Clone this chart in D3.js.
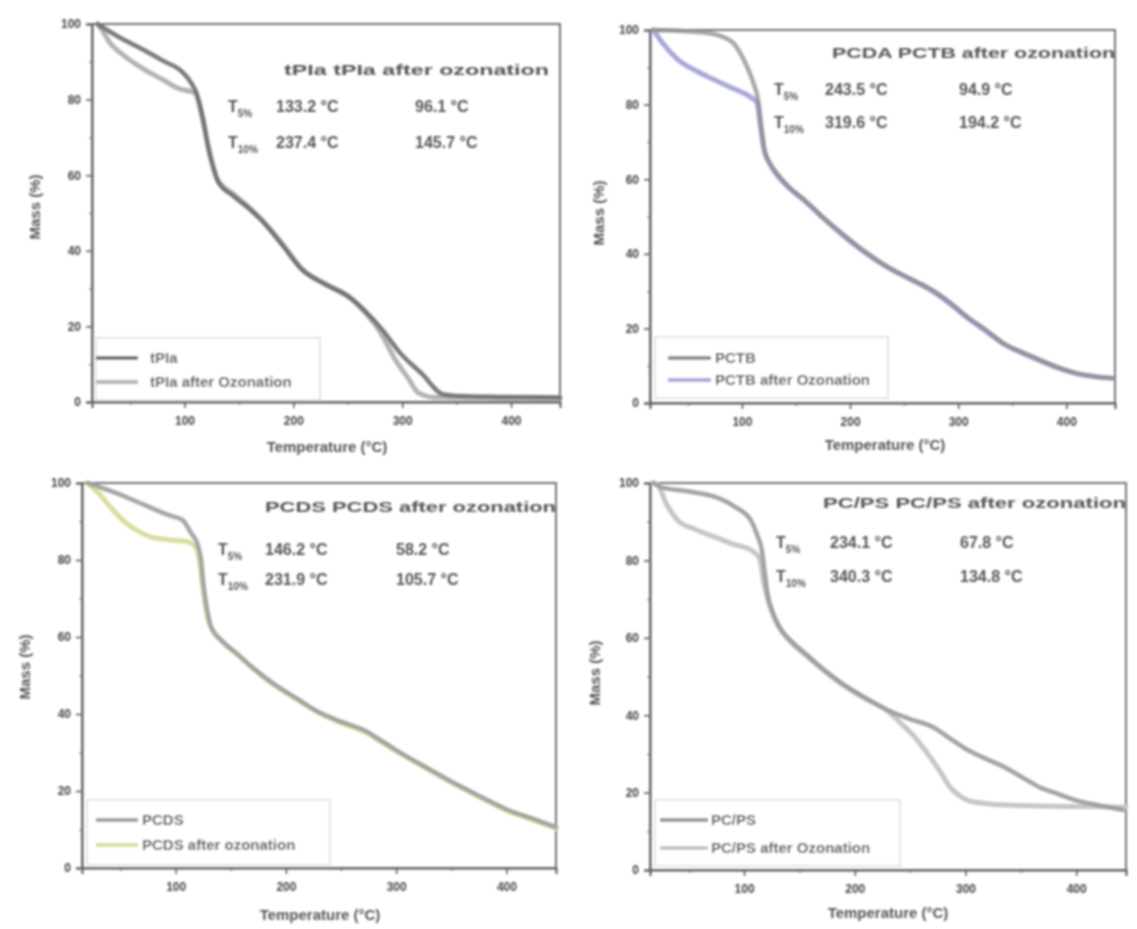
<!DOCTYPE html>
<html><head><meta charset="utf-8">
<script src="https://cdn.jsdelivr.net/npm/d3@7"></script>
<style>body{margin:0;background:#fff} text{font-family:"Liberation Sans",Arial,sans-serif}</style>
</head><body><svg id="c" width="1137" height="929"></svg>
<script>
// ---------- data ----------
const xTicks = [100, 200, 300, 400];
const yTicks = [0, 20, 40, 60, 80, 100];
const xLabel = "Temperature (°C)";
const yLabel = "Mass (%)";
const titles = ["tPIa  tPIa after ozonation", "PCDA  PCTB after ozonation", "PCDS  PCDS after ozonation", "PC/PS  PC/PS after ozonation"];
const legendOriginal = ["tPIa", "PCTB", "PCDS", "PC/PS"];
const legendOzonated = ["tPIa after Ozonation", "PCTB after Ozonation", "PCDS after ozonation", "PC/PS after Ozonation"];
const rowLabels = ["5%", "10%"];
const t5Original = ["133.2 °C", "243.5 °C", "146.2 °C", "234.1 °C"];
const t5Ozonated = ["96.1 °C", "94.9 °C", "58.2 °C", "67.8 °C"];
const t10Original = ["237.4 °C", "319.6 °C", "231.9 °C", "340.3 °C"];
const t10Ozonated = ["145.7 °C", "194.2 °C", "105.7 °C", "134.8 °C"];

// [temperature °C, mass %]
const tpiaOriginal = [[20,100],[40,96.5],[60,93.5],[80,90.3],[98,87.3],[106,84.5],[111,81.7],[117,75],[122,67],[127,61.5],[131,58.2],[145,54.5],[160,51],[171,48],[190,41.5],[208,35],[230,31],[251,27.8],[265,24.3],[282,19],[298,13],[318,7.5],[338,2],[360,1.5],[400,1.3],[445,1.2]];
const tpiaOzonated = [[20,100],[24,98.5],[31,95.2],[45,91.5],[64,87.8],[80,85.3],[94,83],[110,81.7],[116,75.5],[122,67.5],[130,59],[145,55],[160,51.3],[171,48.2],[190,41.8],[208,35.2],[230,31.2],[251,27.9],[265,24],[280,18.5],[294,11],[305,6.5],[315,2.4],[330,1.2],[400,1],[445,1]];
const pctbOriginal = [[18,100],[45,99.7],[68,99.2],[82,98.2],[92,96.5],[100,93],[105,90],[111,85.5],[115,81.2],[118,74],[121,67.8],[126,64.2],[132,61.7],[145,57.5],[158,54.4],[175,49.8],[192,45.6],[212,41],[235,36.5],[256,33.3],[276,30.3],[293,26.8],[309,23],[326,19.5],[342,16],[360,13.5],[376,11.5],[392,9.6],[409,8],[425,7.2],[442,6.7]];
const pctbOzonated = [[18,100],[28,96],[41,92],[58,89],[75,86.6],[92,84.3],[108,82],[114,80.5],[117,74.5],[120,68.5],[126,64],[132,61.3],[145,57.3],[158,54.2],[175,49.6],[192,45.3],[212,40.7],[235,36.3],[256,33.1],[276,30],[293,26.5],[309,22.7],[326,19.2],[342,15.8],[360,13.3],[376,11.3],[392,9.4],[409,7.9],[425,7.1],[442,6.6]];
const pcdsOriginal = [[20,100],[45,97.5],[70,94.5],[95,91.5],[106,90.4],[114,87],[120,84],[123,80],[125,74],[128,68],[132,62.6],[142,59],[155,55.8],[170,52],[188,48],[210,44],[231,40.3],[250,38],[271,35.8],[288,32.8],[304,29.9],[320,27.3],[336,24.7],[353,22],[370,19.5],[386,17.2],[402,15],[425,12.7],[445,10.6]];
const pcdsOzonated = [[20,100],[28,98],[40,94],[55,89.6],[66,87.5],[77,86],[95,85.2],[111,84.7],[119,83],[122,79],[125,72],[129,65],[134,61.6],[143,58.6],[156,55.4],[171,51.6],[189,47.6],[211,43.6],[232,40],[251,37.6],[272,35.3],[289,32.3],[305,29.5],[321,26.9],[337,24.3],[354,21.6],[371,19.1],[387,16.8],[403,14.6],[426,12.3],[445,10.3]];
const pcpsOriginal = [[18,100],[24,99],[50,97.8],[74,96.4],[92,93.8],[106,90.4],[112,86.5],[116,82.7],[119,76],[121,71.6],[126,66.5],[132,62.8],[143,59],[155,56],[171,52],[188,48.3],[209,44.6],[230,41.3],[250,39],[270,37],[286,34],[302,31],[318,28.8],[335,26.6],[351,24],[367,21.4],[384,19.6],[400,18],[421,16.7],[442,15.5]];
const pcpsOzonated = [[18,100],[22,99.5],[30,94.5],[40,90.4],[56,88],[74,86],[90,84.2],[106,82.7],[114,80.5],[118,74],[121,70.5],[126,66],[132,62.5],[143,58.7],[155,55.7],[171,51.8],[188,48.1],[209,44.3],[230,41],[243,37.5],[254,34.4],[262,31.5],[270,28.4],[278,25],[286,21.4],[294,19.3],[302,18],[318,17.2],[335,16.8],[380,16.5],[432,16.3],[445,16.2]];

const seriesOriginal = [tpiaOriginal, pctbOriginal, pcdsOriginal, pcpsOriginal];
const seriesOzonated = [tpiaOzonated, pctbOzonated, pcdsOzonated, pcpsOzonated];

// ---------- layout / style ----------
const panels = [
  {l:92, r:560, t:24, b:402, title:[284,75,265], tx:228, ty:[112,148], v1:276, v2:415,
   leg:{x0:96, x1:320, y0:338, y1:400, rows:[358,382], lx0:96, lx1:138, tx:150},
   xt:[327,452], yt:[35,207], cO:"#6f6f6f", cZ:"#b4b4b4"},
  {l:650, r:1115, t:30, b:403, title:[832,58,283], tx:774, ty:[95,128], v1:825, v2:959,
   leg:{x0:655, x1:888, y0:337, y1:398, rows:[358,380], lx0:668, lx1:711, tx:715},
   xt:[885,450], yt:[599,213], cO:"#8c8c8c", cZ:"#a9a9da"},
  {l:82, r:556, t:483, b:868, title:[265,512,291], tx:218, ty:[555,585], v1:265, v2:396,
   leg:{x0:87, x1:330, y0:800, y1:865, rows:[820,845], lx0:96, lx1:138, tx:142},
   xt:[320,920], yt:[25,667], cO:"#9d9d9d", cZ:"#dadd9e"},
  {l:650, r:1126, t:483, b:870, title:[823,508,303], tx:776, ty:[548,582], v1:830, v2:960,
   leg:{x0:655, x1:900, y0:800, y1:866, rows:[820,848], lx0:660, lx1:708, tx:711},
   xt:[888,918], yt:[595,673], cO:"#9a9a9a", cZ:"#c6c6c6"}
];

const svg = d3.select("#c");
const defs = svg.append("defs");
defs.append("filter").attr("id","soft").attr("x","-5%").attr("y","-5%").attr("width","110%").attr("height","110%")
  .append("feGaussianBlur").attr("stdDeviation",1.1);
const root = svg.append("g").attr("filter","url(#soft)");

panels.forEach((p, i) => {
  const g = root.append("g");
  const x = d3.scaleLinear().domain([15, 445]).range([p.l, p.r]);
  const y = d3.scaleLinear().domain([0, 100]).range([p.b, p.t]);

  // axes
  const xa = g.append("g").attr("transform", `translate(0,${p.b})`)
    .call(d3.axisBottom(x).tickValues(xTicks).tickSize(6).tickPadding(8).tickFormat(d3.format("d")));
  const ya = g.append("g").attr("transform", `translate(${p.l},0)`)
    .call(d3.axisLeft(y).tickValues(yTicks).tickSize(6).tickPadding(5).tickFormat(d3.format("d")));
  [xa, ya].forEach(a => {
    a.select(".domain").attr("stroke", "#555").attr("stroke-width", 2);
    a.selectAll(".tick line").attr("stroke", "#555").attr("stroke-width", 1.5);
    a.selectAll(".tick text").attr("fill", "#444").attr("font-size", 12).attr("font-weight", "bold")
      .style("font-family", '"Liberation Sans",Arial,sans-serif');
  });
  // minor ticks
  g.append("g").attr("transform", `translate(0,${p.b})`)
    .call(d3.axisBottom(x).tickValues([50,150,250,350]).tickSize(3).tickFormat(""))
    .call(a => { a.select(".domain").remove(); a.selectAll("line").attr("stroke","#666"); });
  g.append("g").attr("transform", `translate(${p.l},0)`)
    .call(d3.axisLeft(y).tickValues([10,30,50,70,90]).tickSize(3).tickFormat(""))
    .call(a => { a.select(".domain").remove(); a.selectAll("line").attr("stroke","#666"); });
  // frame
  g.append("rect").attr("x", p.l).attr("y", p.t).attr("width", p.r - p.l).attr("height", p.b - p.t)
    .attr("fill", "none").attr("stroke", "#666").attr("stroke-width", 1.8);

  // curves
  const line = d3.line().x(d => x(d[0])).y(d => y(d[1])).curve(d3.curveMonotoneX);
  g.append("path").datum(seriesOzonated[i]).attr("d", line).attr("fill", "none")
    .attr("stroke", p.cZ).attr("stroke-width", 5).attr("stroke-linejoin", "round").attr("stroke-linecap", "round");
  g.append("path").datum(seriesOriginal[i]).attr("d", line).attr("fill", "none")
    .attr("stroke", p.cO).attr("stroke-width", 4.5).attr("stroke-opacity", i === 1 ? 0.75 : 0.9).attr("stroke-linejoin", "round").attr("stroke-linecap", "round");

  // title
  g.append("text").attr("x", p.title[0]).attr("y", p.title[1]).text(titles[i])
    .attr("font-size", 14).attr("font-weight", "bold").attr("fill", "#555")
    .attr("textLength", p.title[2]).attr("lengthAdjust", "spacingAndGlyphs");

  // T rows
  const vals = [[t5Original[i], t5Ozonated[i]], [t10Original[i], t10Ozonated[i]]];
  rowLabels.forEach((rl, k) => {
    const t = g.append("text").attr("x", p.tx).attr("y", p.ty[k]).attr("fill", "#555")
      .attr("font-size", 16).attr("font-weight", "bold");
    t.append("tspan").text("T");
    t.append("tspan").attr("dy", 5).attr("font-size", 10).text(rl);
    g.append("text").attr("x", p.v1).attr("y", p.ty[k]).text(vals[k][0])
      .attr("font-size", 16).attr("font-weight", "bold").attr("fill", "#555");
    g.append("text").attr("x", p.v2).attr("y", p.ty[k]).text(vals[k][1])
      .attr("font-size", 16).attr("font-weight", "bold").attr("fill", "#555");
  });

  // legend
  const L = p.leg;
  g.append("rect").attr("x", L.x0).attr("y", L.y0).attr("width", L.x1 - L.x0).attr("height", L.y1 - L.y0)
    .attr("fill", "#fff").attr("fill-opacity", 0.85).attr("stroke", "#ddd").attr("stroke-width", 1.5);
  [[legendOriginal[i], p.cO], [legendOzonated[i], p.cZ]].forEach((e, k) => {
    g.append("line").attr("x1", L.lx0).attr("x2", L.lx1).attr("y1", L.rows[k]).attr("y2", L.rows[k])
      .attr("stroke", e[1]).attr("stroke-width", 4);
    g.append("text").attr("x", L.tx).attr("y", L.rows[k] + 5).text(e[0])
      .attr("font-size", 15).attr("font-weight", "bold").attr("fill", "#555");
  });

  // axis titles
  g.append("text").attr("x", p.xt[0]).attr("y", p.xt[1]).attr("text-anchor", "middle").text(xLabel)
    .attr("font-size", 15).attr("font-weight", "bold").attr("fill", "#555");
  g.append("text").attr("transform", `translate(${p.yt[0]},${p.yt[1]}) rotate(-90)`).attr("text-anchor", "middle")
    .attr("dy", "0.35em").text(yLabel).attr("font-size", 15).attr("font-weight", "bold").attr("fill", "#555");
});
</script></body></html>
